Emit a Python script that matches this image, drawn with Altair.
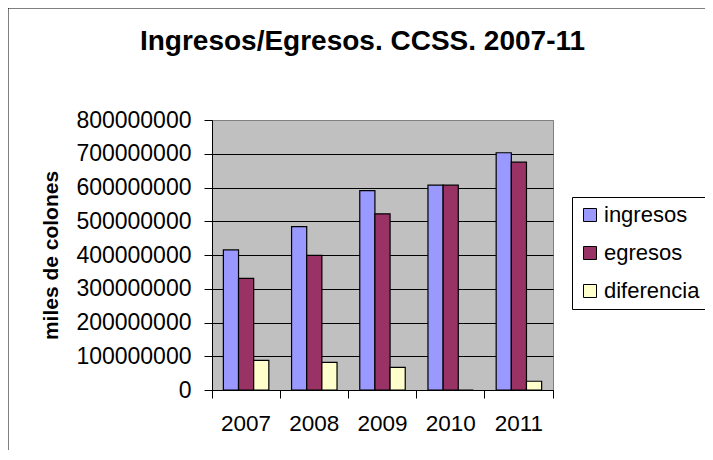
import altair as alt
import pandas as pd

years = ["2007", "2008", "2009", "2010", "2011"]
series = ["ingresos", "egresos", "diferencia"]
ingresos = [415000000, 484000000, 591000000, 607000000, 703000000]
egresos = [331000000, 399000000, 522000000, 607000000, 675000000]
diferencia = [88000000, 82000000, 67000000, 0, 26000000]
y_ticks = [0, 100000000, 200000000, 300000000, 400000000,
           500000000, 600000000, 700000000, 800000000]
colors = ["#9999FF", "#993366", "#FFFFCC"]

rows = []
for i, yr in enumerate(years):
    for s, vals in zip(series, [ingresos, egresos, diferencia]):
        rows.append({"year": yr, "serie": s, "value": vals[i]})
df = pd.DataFrame(rows)

font = "Liberation Sans"

border = alt.Chart(alt.Data(values=[{}])).mark_rect(
    fillOpacity=0, stroke="black", strokeWidth=1
).encode(
    x=alt.value(-204), x2=alt.value(900), y=alt.value(-112), y2=alt.value(900)
)

bars = alt.Chart(df).mark_bar(stroke="black", strokeWidth=1.2).encode(
    x=alt.X("year:N", sort=years, title=None,
            scale=alt.Scale(paddingInner=0, paddingOuter=0),
            axis=alt.Axis(labelAngle=0, labelFont=font, labelFontSize=22.5,
                          labelColor="black", labelPadding=14, tickSize=8,
                          tickColor="black", tickWidth=1, bandPosition=1,
                          tickExtra=True, domainColor="black", domainWidth=1,
                          grid=False)),
    xOffset=alt.XOffset("serie:N", sort=series,
                        scale=alt.Scale(paddingInner=0, paddingOuter=0.75)),
    y=alt.Y("value:Q", scale=alt.Scale(domain=[0, 800000000]),
            title="miles de colones",
            axis=alt.Axis(values=y_ticks, format="d", labelFont=font,
                          labelFontSize=23, labelColor="black", labelPadding=13,
                          tickSize=8, tickColor="black", tickWidth=1,
                          domainColor="black", domainWidth=1, grid=True,
                          gridColor={"condition": {"test": "datum.value >= 800000000",
                                                   "value": "#808080"},
                                     "value": "black"},
                          gridWidth=1, titleFont=font, titleFontSize=21,
                          titleFontWeight="bold", titleColor="black",
                          titlePadding=14)),
    color=alt.Color("serie:N", sort=series, title=None,
                    scale=alt.Scale(domain=series, range=colors),
                    legend=alt.Legend(orient="none", legendX=360, legendY=77,
                                      strokeColor="black", padding=7,
                                      symbolType="square", symbolSize=169,
                                      symbolStrokeColor="black",
                                      symbolStrokeWidth=1, labelFont=font,
                                      labelFontSize=22, labelColor="black",
                                      rowPadding=16, labelOffset=3,
                                      fillColor="white", cornerRadius=0)),
)

chart = alt.layer(border, bars).properties(
    width=341, height=270,
    padding={"left": 204, "top": 112, "right": 152, "bottom": 60},
    autosize=alt.AutoSizeParams(type="none"),
    title=alt.TitleParams("Ingresos/Egresos. CCSS. 2007-11", font=font,
                          fontSize=28, fontWeight="bold", color="black",
                          anchor="middle", frame="group", dx=-20,
                          baseline="alphabetic", offset=-70),
).configure_view(fill="#C0C0C0", stroke="#808080", strokeWidth=1)

chart.save("out.html", embed_options={"renderer": "svg", "actions": False})
